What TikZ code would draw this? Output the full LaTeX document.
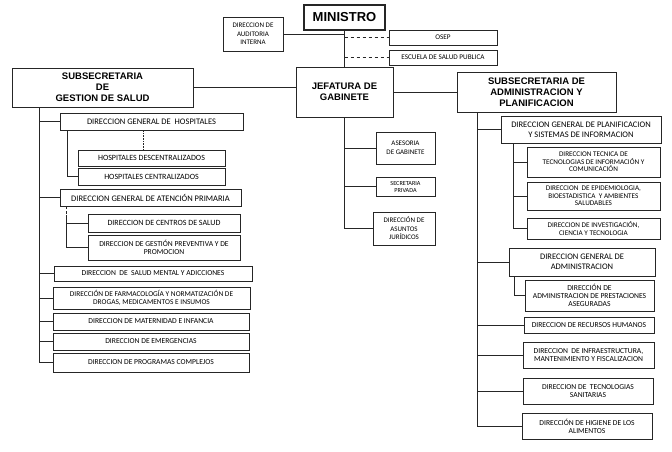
\documentclass[tikz,border=0pt]{standalone}
\usepackage{fontspec}
\setmainfont{Carlito}
\newfontfamily\hdfont{Liberation Sans}
\usetikzlibrary{calc}
\newcommand{\bx}[7][]{\node[box,#1,minimum width={(#4-#2)*1pt},minimum height={(#5-#3)*1pt}] (#6) at ({(#2+#4)/2},{(#3+#5)/2}) {#7};}
\tikzset{
  box/.style={draw=black!85, fill=white, align=center, inner sep=0.5pt, line width=0.75pt, font=\fontsize{7.6}{8.2}\selectfont},
  headbox/.style={line width=0.9pt, font=\hdfont\bfseries\fontsize{9.5}{11}\selectfont},
  minbox/.style={line width=1.8pt, font=\hdfont\bfseries\fontsize{13}{14}\selectfont},
  dgbox/.style={font=\fontsize{8.5}{9.6}\selectfont},
  midbox/.style={font=\fontsize{8}{8.6}\selectfont},
  smallbox/.style={font=\fontsize{7.2}{7.6}\selectfont},
  tinybox/.style={font=\fontsize{7}{8.5}\selectfont},
  ln/.style={draw=black!85, line width=0.6pt},
}
\begin{document}
\begin{tikzpicture}[x=1pt,y=-1pt]
\fill[white] (0,0) rectangle (672,452);
\useasboundingbox (0,0) rectangle (672,452);
% top
\bx[minbox]{304}{5}{385}{30}{min}{MINISTRO}
\bx[tinybox]{223}{17}{283}{51}{aud}{DIRECCION DE\\AUDITORIA\\INTERNA}
\bx[smallbox]{389}{30}{497}{45}{osep}{OSEP}
\bx[smallbox]{389}{50}{497}{65}{esc}{ESCUELA DE SALUD PUBLICA}
\bx[headbox]{296}{67}{393}{117}{jg}{JEFATURA DE\\GABINETE}
\bx[headbox]{12}{68}{193}{107}{sg}{SUBSECRETARIA\\DE\\GESTION DE SALUD}
\bx[headbox]{457}{72}{616}{112}{sa}{SUBSECRETARIA DE\\ADMINISTRACION Y\\PLANIFICACION}
% left column
\bx[dgbox]{60}{113}{243}{130}{dgh}{DIRECCION GENERAL DE\ \ HOSPITALES}
\bx[midbox]{78}{150}{225}{166}{hd}{HOSPITALES DESCENTRALIZADOS}
\bx[midbox]{78}{168}{225}{185}{hc}{HOSPITALES CENTRALIZADOS}
\bx[dgbox]{60}{189}{241}{206}{dgap}{DIRECCION GENERAL DE ATENCIÓN PRIMARIA}
\bx[midbox]{88}{214}{240}{232}{cs}{DIRECCION DE CENTROS DE SALUD}
\bx{88}{235}{240}{260}{gp}{DIRECCION DE GESTIÓN PREVENTIVA Y DE\\PROMOCION}
\bx{54}{266}{252}{281}{sm}{DIRECCION\ \ DE\ \ SALUD MENTAL Y ADICCIONES}
\bx[font=\fontsize{7.4}{8}\selectfont]{53}{287}{250}{309}{far}{DIRECCIÓN DE FARMACOLOGÍA Y NORMATIZACIÓN DE\\DROGAS, MEDICAMENTOS E INSUMOS}
\bx{53}{313}{249}{330}{mat}{DIRECCION DE MATERNIDAD E INFANCIA}
\bx{53}{333}{249}{350}{eme}{DIRECCION DE EMERGENCIAS}
\bx{53}{353}{249}{372}{prog}{DIRECCION DE PROGRAMAS COMPLEJOS}
% middle column
\bx[tinybox]{376}{132}{435}{164}{ase}{ASESORIA\\DE GABINETE}
\bx[font=\fontsize{6.2}{7}\selectfont]{376}{177}{435}{196}{sec}{SECRETARIA\\PRIVADA}
\bx[tinybox]{373}{212}{435}{245}{jur}{DIRECCIÓN DE\\ASUNTOS\\JURÍDICOS}
% right column
\bx[dgbox]{501}{116}{661}{143}{dgp}{DIRECCION GENERAL DE PLANIFICACION\\Y SISTEMAS DE INFORMACION}
\bx[smallbox]{527}{147}{660}{177}{tec}{DIRECCION TECNICA DE\\TECNOLOGIAS DE INFORMACIÓN Y\\COMUNICACIÓN}
\bx[smallbox]{527}{182}{660}{210}{epi}{DIRECCION\ \ DE EPIDEMIOLOGIA,\\BIOESTADISTICA\ \ Y AMBIENTES\\SALUDABLES}
\bx[smallbox]{527}{218}{660}{239}{inv}{DIRECCION DE INVESTIGACIÓN,\\CIENCIA Y TECNOLOGIA}
\bx[dgbox]{509}{248}{655}{276}{dga}{DIRECCION GENERAL DE\\ADMINISTRACION}
\bx{525}{280}{654}{311}{pres}{DIRECCIÓN DE\\ADMINISTRACION DE PRESTACIONES\\ASEGURADAS}
\bx{524}{317}{654}{333}{rh}{DIRECCION DE RECURSOS HUMANOS}
\bx{523}{342}{654}{368}{inf}{DIRECCION\ \ DE INFRAESTRUCTURA,\\MANTENIMIENTO Y FISCALIZACION}
\bx{523}{378}{653}{404}{ts}{DIRECCION DE\ \ TECNOLOGIAS\\SANITARIAS}
\bx{522}{413}{652}{439}{hig}{DIRECCIÓN DE HIGIENE DE LOS\\ALIMENTOS}
% connectors: top
\draw[ln] (min.south) -- (jg.north);
\draw[ln] (aud.east) -- (aud.east -| min.south);
\draw[ln,dashed] (min.south |- osep.west) -- (osep.west);
\draw[ln,dashed] (min.south |- esc.west) -- (esc.west);
\draw[ln] (sg.east) -- (sg.east -| jg.west);
\draw[ln] (jg.east) -- (jg.east -| sa.west);
% left trunk
\coordinate (tl) at ([shift={(28,0)}]sg.south west);
\foreach \b in {dgh,dgap,sm,far,mat,eme,prog} \draw[ln] (tl) |- (\b.west);
\coordinate (th) at ([shift={(8,0)}]dgh.south west);
\draw[ln] (th) |- (hc.west);
\coordinate (hdt) at ([shift={(-8.5,0)}]hd.north);
\draw[ln,densely dotted] (hdt) -- (hdt |- dgh.south);
\coordinate (ta) at ([shift={(7,0)}]dgap.south west);
\coordinate (tab) at ([shift={(7,9)}]dgap.south west);
\draw[ln,densely dashed] (ta) -- (tab);
\draw[ln] (tab) |- (cs.west);
\draw[ln] (tab) |- (gp.west);
% middle trunk
\foreach \b in {ase,sec,jur} \draw[ln] (jg.south) |- (\b.west);
% right trunk
\coordinate (tr) at ([shift={(21,0)}]sa.south west);
\foreach \b in {dgp,dga,rh,inf,ts,hig} \draw[ln] (tr) |- (\b.west);
\coordinate (tp) at ([shift={(13,0)}]dgp.south west);
\foreach \b in {tec,epi,inv} \draw[ln] (tp) |- (\b.west);
\coordinate (tg) at ([shift={(6,0)}]dga.south west);
\draw[ln] (tg) |- (pres.west);
\end{tikzpicture}
\end{document}
